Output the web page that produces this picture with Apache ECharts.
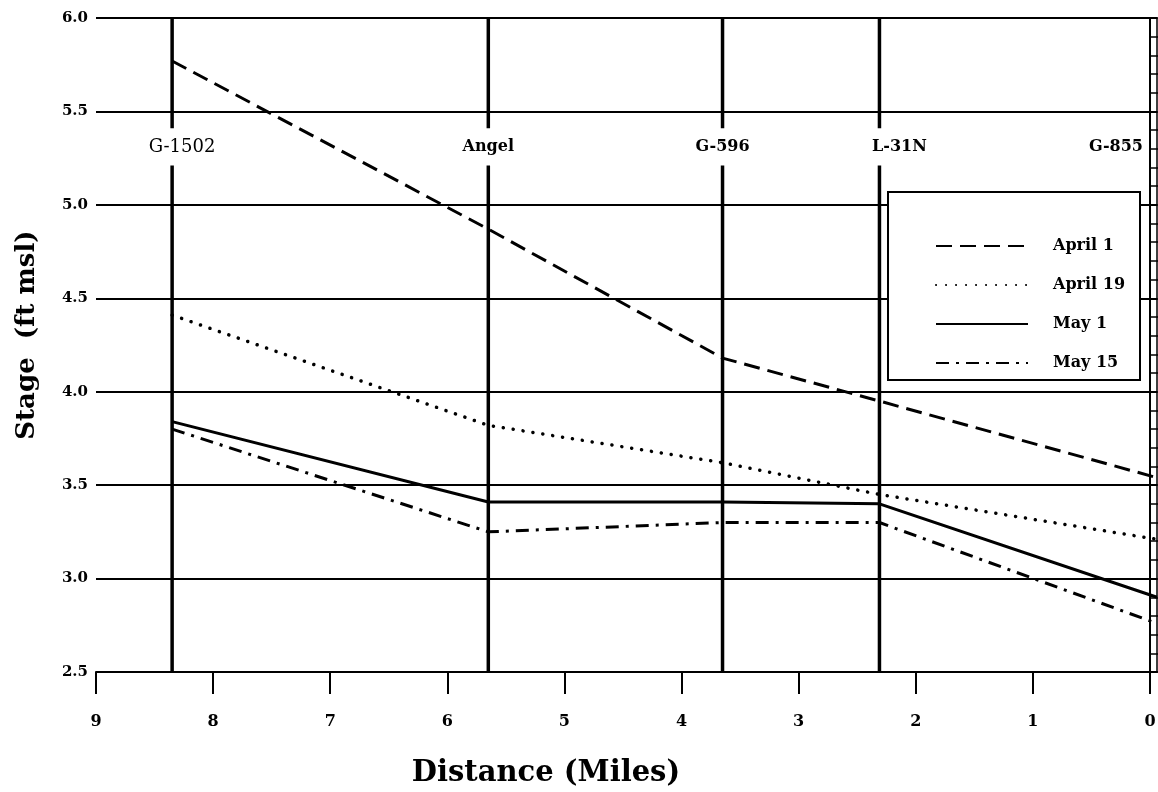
<!DOCTYPE html>
<html>
<head>
<meta charset="utf-8">
<script src="https://cdn.jsdelivr.net/npm/echarts@6/dist/echarts.min.js"></script>
<style>
html,body{margin:0;padding:0;background:#fff;}
#chart{width:1158px;height:792px;}
</style>
</head>
<body>
<div id="chart"></div>
<script>
// ---- data ----
const stations = ['G-1502', 'Angel', 'G-596', 'L-31N', 'G-855'];
const stationMiles = [8.35, 5.65, 3.65, 2.31, -0.06];
const april1  = [5.77, 4.87, 4.18, 3.95, 3.54];
const april19 = [4.41, 3.82, 3.62, 3.45, 3.21];
const may1    = [3.84, 3.41, 3.41, 3.40, 2.90];
const may15   = [3.80, 3.25, 3.30, 3.30, 2.76];
const xTickValues = [0, 1, 2, 3, 4, 5, 6, 7, 8, 9];
const yMin = 2.5, yMax = 6.0, yStep = 0.5;
const stationLabelY = 5.31;
const gapTop = 5.41, gapBottom = 5.21;

const FONT = 'DejaVu Serif';
const chart = echarts.init(document.getElementById('chart'));

function pts(vals) { return stationMiles.map((m, i) => [m, vals[i]]); }

// vertical station lines (all except last station at right edge)
const stationLineSeries = stationMiles.slice(0, 4).map((m, i) => ({
  type: 'line',
  name: 'st' + i,
  data: [[m, yMax], [m, gapTop], [m, '-'], [m, gapBottom], [m, yMin]],
  symbol: 'none',
  connectNulls: false,
  lineStyle: { color: '#000', width: 3.5 },
  silent: true,
  z: 1
}));

const labelSeries = {
  type: 'scatter',
  name: 'labels',
  symbolSize: 0,
  silent: true,
  itemStyle: { opacity: 1, color: '#000' },
  data: stationMiles.map((m, i) => {
    const item = { value: [m, stationLabelY], name: stations[i] };
    if (i === 4) item.label = { align: 'right', offset: [-14, 0] };
    if (i === 0) item.label = { fontWeight: 'normal', fontSize: 18, offset: [10, 0] };
    if (i === 3) item.label = { offset: [20, 0] };
    return item;
  }),
  label: {
    show: true,
    position: 'inside',
    formatter: p => p.name,
    color: '#000',
    opacity: 1,
    fontFamily: FONT,
    fontWeight: 'bold',
    fontSize: 16
  },
  z: 3
};

const dataSeries = [
  { name: 'April 1', vals: april1, style: { type: [16, 8], width: 3 } },
  { name: 'April 19', vals: april19, style: { type: [0.1, 9.9], width: 3.5, cap: 'round' } },
  { name: 'May 1', vals: may1, style: { type: 'solid', width: 3 } },
  { name: 'May 15', vals: may15, style: { type: [13, 7, 3, 7], width: 3 } }
].map(s => ({
  type: 'line',
  name: s.name,
  data: pts(s.vals),
  symbol: 'none',
  showSymbol: false,
  lineStyle: Object.assign({ color: '#000' }, s.style),
  itemStyle: { color: '#000' },
  z: 2
}));

const option = {
  animation: false,
  backgroundColor: '#fff',
  grid: { left: 96, right: 1, top: 18, bottom: 120, containLabel: false, outerBoundsMode: 'none' },
  xAxis: {
    type: 'value',
    inverse: true,
    min: -0.06,
    max: 9,
    splitLine: { show: false },
    axisLine: { show: true, onZero: false, lineStyle: { color: '#000', width: 2 } },
    axisTick: { show: true, length: 22, inside: false, lineStyle: { color: '#000', width: 2 }, customValues: xTickValues },
    axisLabel: { show: true, margin: 42, color: '#000', fontFamily: FONT, fontWeight: 'bold', fontSize: 16, customValues: xTickValues }
  },
  yAxis: [{
    type: 'value',
    min: yMin, max: yMax, interval: yStep,
    position: 'left',
    axisLine: { show: true, lineStyle: { color: '#000', width: 2 } },
    axisTick: { show: true, inside: true, length: 8, lineStyle: { color: '#000', width: 1.5 } },
    minorTick: { show: true, splitNumber: 5, length: 8, lineStyle: { color: '#000', width: 1.5 } },
    splitLine: { show: true, lineStyle: { color: '#000', width: 1.8 } },
    axisLabel: { color: '#000', fontFamily: FONT, fontWeight: 'bold', fontSize: 15, margin: 8, formatter: v => v.toFixed(1) }
  }, {
    type: 'value',
    min: yMin, max: yMax, interval: yStep,
    position: 'right',
    axisLine: { show: true, lineStyle: { color: '#000', width: 1.5 } },
    axisTick: { show: true, inside: true, length: 7, lineStyle: { color: '#000', width: 1.5 } },
    minorTick: { show: true, splitNumber: 5, length: 7, lineStyle: { color: '#000', width: 1.5 } },
    splitLine: { show: false },
    axisLabel: { show: false }
  }],
  legend: {
    orient: 'vertical',
    left: 930,
    top: 233,
    itemWidth: 92,
    itemHeight: 16,
    itemGap: 23,
    itemStyle: { opacity: 0 },
    data: ['April 1', 'April 19', 'May 1', 'May 15'],
    textStyle: { color: '#000', fontFamily: FONT, fontWeight: 'bold', fontSize: 16, lineHeight: 16, padding: [0, 0, 0, 20] },
    selectedMode: false,
    z: 20
  },
  graphic: [
    {
      type: 'rect',
      shape: { x: 888, y: 192, width: 252, height: 188 },
      style: { fill: '#fff', stroke: '#000', lineWidth: 2 },
      z: 10
    },
    {
      type: 'text',
      x: 546, y: 773,
      style: { text: 'Distance (Miles)', fill: '#000', font: 'bold 29px "DejaVu Serif"', textAlign: 'center', textVerticalAlign: 'middle' },
      z: 10
    },
    {
      type: 'text',
      x: 27, y: 335,
      rotation: Math.PI / 2,
      style: { text: 'Stage  (ft msl)', fill: '#000', font: 'bold 26px "DejaVu Serif"', textAlign: 'center', textVerticalAlign: 'middle' },
      z: 10
    }
  ],
  series: [...stationLineSeries, labelSeries, ...dataSeries]
};
chart.setOption(option);
</script>
</body>
</html>
